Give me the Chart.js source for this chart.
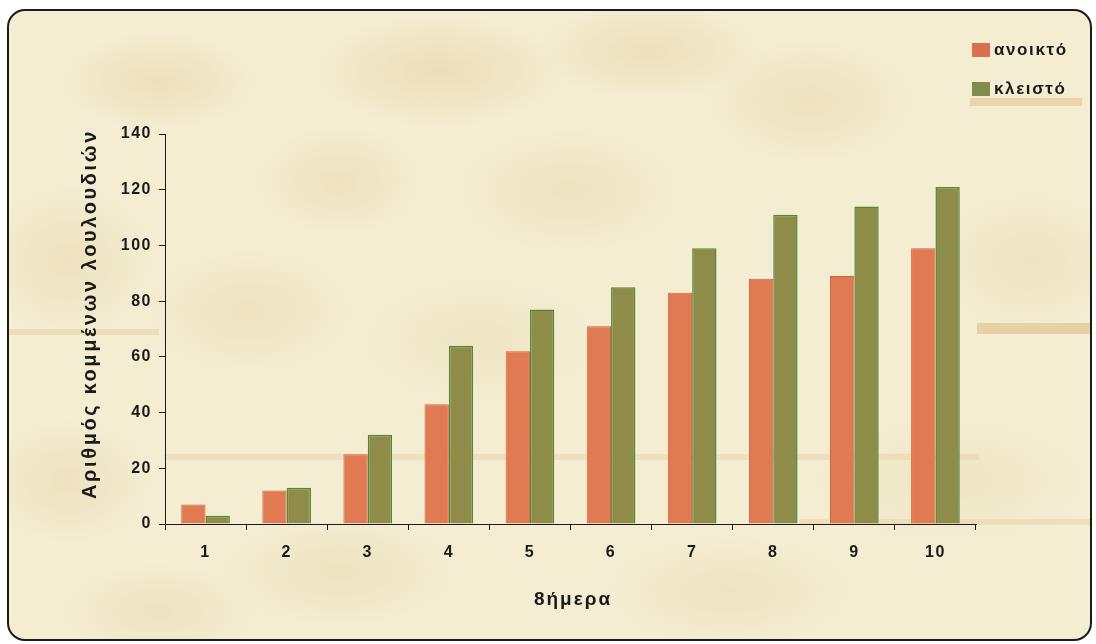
<!DOCTYPE html>
<html>
<head>
<meta charset="utf-8">
<script src="https://cdn.jsdelivr.net/npm/chart.js@4"></script>
<style>
  html, body { margin: 0; padding: 0; background: #ffffff; width: 1096px; height: 644px; overflow: hidden; }
  #frame {
    position: absolute; left: 7px; top: 9px; width: 1085px; height: 632px;
    box-sizing: border-box; border: 2px solid #1b1b1b; border-radius: 18px; overflow: hidden;
    background-color: #f4edd2;
    background-image:
      radial-gradient(ellipse 140px 70px at 150px 70px, rgba(214,180,112,0.24), transparent 70%),
      radial-gradient(ellipse 180px 80px at 430px 60px, rgba(214,180,112,0.28), transparent 70%),
      radial-gradient(ellipse 160px 70px at 640px 40px, rgba(214,180,112,0.24), transparent 70%),
      radial-gradient(ellipse 150px 90px at 800px 90px, rgba(214,180,112,0.20), transparent 70%),
      radial-gradient(ellipse 120px 80px at 330px 170px, rgba(214,180,112,0.20), transparent 70%),
      radial-gradient(ellipse 160px 90px at 560px 180px, rgba(214,180,112,0.18), transparent 70%),
      radial-gradient(ellipse 120px 110px at 60px 250px, rgba(214,180,112,0.20), transparent 70%),
      radial-gradient(ellipse 150px 90px at 240px 300px, rgba(214,180,112,0.18), transparent 70%),
      radial-gradient(ellipse 170px 90px at 470px 330px, rgba(214,180,112,0.14), transparent 70%),
      radial-gradient(ellipse 140px 100px at 1020px 250px, rgba(214,180,112,0.16), transparent 70%),
      radial-gradient(ellipse 120px 90px at 60px 470px, rgba(214,180,112,0.20), transparent 70%),
      radial-gradient(ellipse 170px 80px at 330px 560px, rgba(214,180,112,0.18), transparent 70%),
      radial-gradient(ellipse 180px 80px at 720px 580px, rgba(214,180,112,0.16), transparent 70%),
      radial-gradient(ellipse 200px 90px at 940px 470px, rgba(214,180,112,0.14), transparent 70%),
      radial-gradient(ellipse 140px 70px at 150px 600px, rgba(214,180,112,0.18), transparent 70%);
  }
  .band { position: absolute; background: rgba(222,188,128,0.55); }
  #chartBox { position: absolute; left: 0; top: 0; width: 1096px; height: 644px; }
</style>
</head>
<body>
<div id="frame">
  <div class="band" style="left:961px; top:87px; width:112px; height:8px; opacity:0.9"></div>
  <div class="band" style="left:968px; top:312px; width:120px; height:11px; opacity:1"></div>
  <div class="band" style="left:0px; top:318px; width:150px; height:6px; opacity:0.55"></div>
  <div class="band" style="left:155px; top:443px; width:815px; height:6px; opacity:0.45"></div>
  <div class="band" style="left:790px; top:508px; width:300px; height:6px; opacity:0.5"></div>
</div>
<div id="chartBox"><canvas id="chart" width="1096" height="644"></canvas></div>
<script>
// Days of the experiment and the number of cut flowers per condition
const days = ['1', '2', '3', '4', '5', '6', '7', '8', '9', '10'];
const openValues = [7, 12, 25, 43, 62, 71, 83, 88, 89, 99];
const closedValues = [3, 13, 32, 64, 77, 85, 99, 111, 114, 121];
const seriesNames = ['ανοικτό', 'κλειστό'];
const yTickValues = [0, 20, 40, 60, 80, 100, 120, 140];
const xAxisTitle = '8ήμερα';
const yAxisTitle = 'Αριθμός κομμένων λουλουδιών';

const FONT = '"Liberation Sans", Arial, sans-serif';
const INK = '#1a1a1a';

// Titles and legend drawn with a little letter spacing
const textLayer = {
  id: 'textLayer',
  beforeDraw(chart) {
    chart.ctx.letterSpacing = '1.5px';
  },
  afterDraw(chart) {
    const ctx = chart.ctx;
    ctx.save();
    ctx.fillStyle = INK;
    ctx.textBaseline = 'middle';

    // x axis title
    ctx.letterSpacing = '2px';
    ctx.font = 'bold 19px ' + FONT;
    ctx.textAlign = 'center';
    ctx.fillText(xAxisTitle, 573, 600);

    // y axis title, rotated
    ctx.save();
    ctx.translate(90, 314);
    ctx.rotate(-Math.PI / 2);
    ctx.letterSpacing = '2.6px';
    ctx.font = 'bold 20px ' + FONT;
    ctx.fillText(yAxisTitle, 0, 0);
    ctx.restore();

    // legend
    ctx.letterSpacing = '1.6px';
    ctx.font = 'bold 17px ' + FONT;
    ctx.textAlign = 'left';
    chart.data.datasets.forEach((ds, i) => {
      const cy = 50 + i * 39;
      ctx.fillStyle = ds.legendColor;
      ctx.fillRect(972, cy - 7, 18, 14);
      ctx.fillStyle = INK;
      ctx.fillText(ds.label, 994, cy);
    });
    ctx.restore();
    ctx.letterSpacing = '0px';
  }
};

new Chart(document.getElementById('chart'), {
  type: 'bar',
  data: {
    labels: days,
    datasets: [
      {
        label: seriesNames[0],
        data: openValues,
        backgroundColor: '#e07a52',
        borderColor: '#d0603f',
        borderWidth: 1,
        legendColor: '#d9704f'
      },
      {
        label: seriesNames[1],
        data: closedValues,
        backgroundColor: '#8e8c48',
        borderColor: '#4f8a3a',
        borderWidth: 1.5,
        legendColor: '#7f8c4a'
      }
    ]
  },
  options: {
    responsive: false,
    animation: false,
    devicePixelRatio: 1,
    layout: { padding: { left: 70, top: 134, right: 120, bottom: 20 } },
    datasets: { bar: { categoryPercentage: 0.6, barPercentage: 1.0 } },
    plugins: { legend: { display: false }, tooltip: { enabled: false } },
    scales: {
      x: {
        grid: { display: true, drawOnChartArea: false, drawTicks: true, tickLength: 6, color: '#1a1a1a', offset: true },
        border: { display: true, color: '#1a1a1a', width: 1 },
        ticks: { font: { family: FONT, size: 16, weight: 'bold' }, color: INK, padding: 13, maxRotation: 0 },
        afterFit(scale) { scale.height = 100; }
      },
      y: {
        min: 0,
        max: 140,
        afterBuildTicks(scale) { scale.ticks = yTickValues.map(v => ({ value: v })); },
        grid: { display: true, drawOnChartArea: false, drawTicks: true, tickLength: 6, color: '#1a1a1a' },
        border: { display: true, color: '#1a1a1a', width: 1 },
        ticks: { font: { family: FONT, size: 16, weight: 'bold' }, color: INK, padding: 7 },
        afterFit(scale) { scale.width = 95; }
      }
    }
  },
  plugins: [textLayer]
});
</script>
</body>
</html>
